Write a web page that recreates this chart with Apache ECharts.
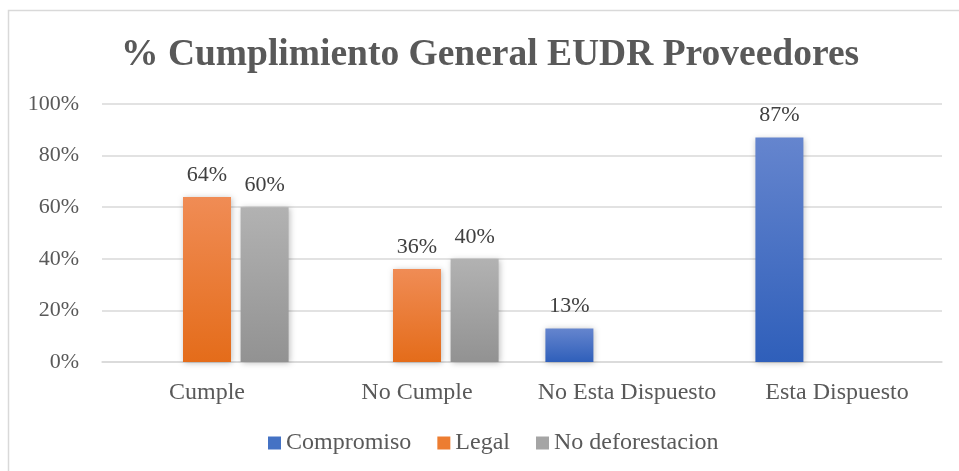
<!DOCTYPE html>
<html>
<head>
<meta charset="utf-8">
<script src="https://cdn.jsdelivr.net/npm/echarts@6/dist/echarts.min.js"></script>
<style>
  html, body { margin: 0; padding: 0; background: #fff; }
  #chart { width: 959px; height: 471px; }
</style>
</head>
<body>
<div id="chart"></div>
<script>
const categories = ['Cumple', 'No Cumple', 'No Esta Dispuesto', 'Esta Dispuesto']
const compromiso = [null, null, 13, 87]
const legal = [64, 36, null, null]
const noDeforestacion = [60, 40, null, null]
const yTicks = [0, 20, 40, 60, 80, 100]

const font = '"Liberation Serif", "Times New Roman", serif'
const textColor = '#595959'

function grad (top, bottom) {
  return new echarts.graphic.LinearGradient(0, 0, 0, 1, [
    { offset: 0, color: top },
    { offset: 1, color: bottom }
  ])
}

function barSeries (name, data, top, bottom) {
  return {
    name: name,
    type: 'bar',
    data: data,
    barWidth: 48,
    barGap: '20%',
    itemStyle: {
      color: grad(top, bottom),
      shadowColor: 'rgba(0,0,0,0.25)',
      shadowBlur: 6,
      shadowOffsetX: 1,
      shadowOffsetY: 1
    },
    label: {
      show: true,
      position: 'top',
      distance: 11,
      formatter: p => p.value + '%',
      fontFamily: font,
      fontSize: 22,
      color: '#404040'
    }
  }
}

let myChart = echarts.init(document.getElementById('chart'))
myChart.setOption({
  animation: false,
  title: {
    text: '% Cumplimiento General EUDR Proveedores',
    left: 116,
    top: 31,
    textStyle: {
      fontFamily: font,
      fontWeight: 'bold',
      fontSize: 37.5,
      color: textColor
    }
  },
  graphic: [{
    type: 'rect',
    shape: { x: 8.5, y: 10.5, width: 960, height: 470 },
    style: { fill: 'none', stroke: '#d9d9d9', lineWidth: 1.5 },
    silent: true
  }],
  legend: {
    bottom: 11,
    left: 263,
    itemWidth: 13,
    itemHeight: 13,
    itemGap: 26,
    icon: 'rect',
    textStyle: { fontFamily: font, fontSize: 24, color: textColor },
    data: [
      { name: 'Compromiso', itemStyle: { color: '#4472C4' } },
      { name: 'Legal', itemStyle: { color: '#ED7D31' } },
      { name: 'No deforestacion', itemStyle: { color: '#A5A5A5' } }
    ]
  },
  grid: {
    left: 102,
    right: 17,
    top: 104,
    bottom: 109
  },
  xAxis: {
    type: 'category',
    data: categories,
    axisTick: { show: false },
    axisLine: { lineStyle: { color: '#d9d9d9', width: 1.5 } },
    axisLabel: {
      interval: 0,
      margin: 19,
      fontFamily: font,
      fontSize: 24,
      color: textColor
    }
  },
  yAxis: {
    type: 'value',
    min: yTicks[0],
    max: yTicks[yTicks.length - 1],
    interval: 20,
    axisLine: { show: false },
    axisTick: { show: false },
    splitLine: { lineStyle: { color: '#d9d9d9', width: 1.5 } },
    axisLabel: {
      margin: 23,
      formatter: '{value}%',
      fontFamily: font,
      fontSize: 22,
      color: textColor
    }
  },
  series: [
    barSeries('Compromiso', compromiso, '#6585CE', '#2F5FBA'),
    barSeries('Legal', legal, '#F08C55', '#E46C1A'),
    barSeries('No deforestacion', noDeforestacion, '#B2B2B2', '#929292')
  ]
})
</script>
</body>
</html>
